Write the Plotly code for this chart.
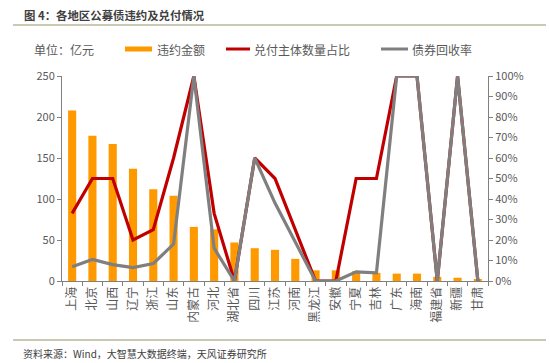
import plotly.graph_objects as go

categories = ["上海", "北京", "山西", "辽宁", "浙江", "山东", "内蒙古", "河北", "湖北省", "四川",
              "江苏", "河南", "黑龙江", "安徽", "宁夏", "吉林", "广东", "海南", "福建省", "新疆", "甘肃"]
default_amount = [208, 177, 167, 137, 112, 104, 66, 63, 47, 40,
                  38, 27, 13, 13, 12, 10, 9, 9, 5, 4, 1.5]
payment_ratio = [0.33, 0.50, 0.50, 0.20, 0.25, 0.60, 1.00, 0.33, 0.00, 0.60,
                 0.50, 0.25, 0.00, 0.00, 0.50, 0.50, 1.00, 1.00, 0.00, 1.00, 0.00]
recovery_rate = [0.07, 0.105, 0.08, 0.065, 0.085, 0.18, 1.00, 0.16, 0.00, 0.60,
                 0.38, 0.19, 0.00, 0.00, 0.045, 0.04, 1.00, 1.00, 0.00, 1.00, 0.00]
left_ticks = [0, 50, 100, 150, 200, 250]
right_ticks = [i / 10 for i in range(11)]

W, H = 550, 363
L, R, T, B = 62, 488, 76, 281

def px(x):
    return (x - L) / (R - L)

def py(y):
    return (B - y) / (B - T)

FONT = "Noto Sans CJK SC, Microsoft YaHei, sans-serif"
TXT = "#595959"
ORANGE = "#FF9900"
RED = "#C00000"
GRAY = "#7F7F7F"

fig = go.Figure()
fig.add_trace(go.Bar(x=categories, y=default_amount, name="违约金额",
                     marker=dict(color=ORANGE, line=dict(width=0)), width=0.4,
                     yaxis="y"))
fig.add_trace(go.Scatter(x=categories, y=payment_ratio, name="兑付主体数量占比", mode="lines",
                         line=dict(color=RED, width=3.2), yaxis="y2"))
fig.add_trace(go.Scatter(x=categories, y=recovery_rate, name="债券回收率", mode="lines",
                         line=dict(color=GRAY, width=3.2), yaxis="y2"))

fig.update_layout(
    width=W, height=H,
    margin=dict(l=L, r=W - R, t=T, b=H - B),
    paper_bgcolor="white", plot_bgcolor="white",
    showlegend=False,
    font=dict(family=FONT, size=11, color=TXT),
    xaxis=dict(type="category",
               showline=True, linecolor="#808080", linewidth=1,
               ticks="outside", ticklen=4, tickcolor="#808080", tickson="boundaries",
               showgrid=False, tickfont=dict(size=12, color=TXT), tickangle=-90),
    yaxis=dict(range=[0, 250], tickvals=left_ticks, showline=True, linecolor="#808080",
               linewidth=1, ticks="outside", ticklen=4, tickcolor="#808080",
               showgrid=False, zeroline=False, tickfont=dict(size=11, color=TXT)),
    yaxis2=dict(range=[0, 1], tickvals=right_ticks, tickformat=".0%", overlaying="y",
                side="right", showline=True, linecolor="#808080", linewidth=1,
                ticks="outside", ticklen=4, tickcolor="#808080", showgrid=False,
                zeroline=False, tickfont=dict(size=11, color=TXT)),
)

shapes = []
annotations = []
for yy in (25, 340):
    shapes.append(dict(type="line", xref="paper", yref="paper", x0=px(13), x1=px(546),
                       y0=py(yy), y1=py(yy), line=dict(color="#C9C9B4", width=2)))
annotations.append(dict(text="<b>图 4：各地区公募债违约及兑付情况</b>", xref="paper", yref="paper",
                        x=px(22), y=py(15), xanchor="left", yanchor="middle", showarrow=False,
                        font=dict(size=11.4, color="#404040", family=FONT)))
annotations.append(dict(text="资料来源：Wind，大智慧大数据终端，天风证券研究所", xref="paper", yref="paper",
                        x=px(21), y=py(353), xanchor="left", yanchor="middle", showarrow=False,
                        font=dict(size=10, color="#404040", family=FONT)))
annotations.append(dict(text="单位：亿元", xref="paper", yref="paper",
                        x=px(32), y=py(49), xanchor="left", yanchor="middle", showarrow=False,
                        font=dict(size=12, color=TXT, family=FONT)))
legend_items = [
    (125, 152, ORANGE, 5, "违约金额", 155),
    (226, 250, RED, 3, "兑付主体数量占比", 252),
    (381, 408, GRAY, 3, "债券回收率", 410),
]
for x0, x1, col, wdt, label, tx in legend_items:
    shapes.append(dict(type="line", xref="paper", yref="paper", x0=px(x0), x1=px(x1),
                       y0=py(49), y1=py(49), line=dict(color=col, width=wdt)))
    annotations.append(dict(text=label, xref="paper", yref="paper", x=px(tx), y=py(49),
                            xanchor="left", yanchor="middle", showarrow=False,
                            font=dict(size=12, color=TXT, family=FONT)))

fig.update_layout(shapes=shapes, annotations=annotations)
fig.write_html("out.html",
               config={"displayModeBar": False},
               post_script="document.body.style.margin='0';document.body.style.padding='0';"
                           "document.body.style.overflow='hidden';")
